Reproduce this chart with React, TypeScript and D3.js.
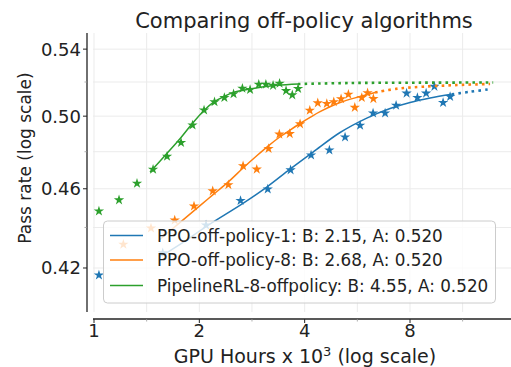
import React from 'react';
import * as d3 from 'd3';

const W = 511;
const H = 367;

const seriesNames = ['PPO-off-policy-1', 'PPO-off-policy-8', 'PipelineRL-8-offpolicy'];
const seriesColors = ['#1f77b4', '#ff7f0e', '#2ca02c'];
const fitB = ['2.15', '2.68', '4.55'];
const fitA = ['0.520', '0.520', '0.520'];

// observed points (GPU hours x 10^3, pass rate)
const ppo1Hours = [1.033, 1.572, 2.09, 2.623, 3.137, 3.646, 4.172, 4.706, 5.218, 5.76, 6.274, 6.791, 7.3, 7.822, 8.399, 8.895, 9.393, 9.946, 10.416];
const ppo1Pass = [0.4166, 0.4273, 0.4412, 0.4538, 0.4598, 0.47, 0.4781, 0.4809, 0.4881, 0.4947, 0.5017, 0.5017, 0.5062, 0.5133, 0.5107, 0.5133, 0.5173, 0.5078, 0.5113];

const ppo8Hours = [1.213, 1.455, 1.701, 1.931, 2.184, 2.421, 2.667, 2.918, 3.154, 3.386, 3.626, 3.881, 4.137, 4.36, 4.627, 4.845, 5.083, 5.333, 5.563, 5.825, 6.051, 6.287];
const ppo8Pass = [0.4315, 0.4397, 0.4437, 0.4509, 0.4588, 0.4621, 0.4722, 0.4704, 0.4817, 0.4897, 0.49, 0.4955, 0.5033, 0.5076, 0.5072, 0.5083, 0.51, 0.5127, 0.505, 0.5107, 0.5135, 0.5101];

const pipeHours = [1.033, 1.179, 1.327, 1.475, 1.617, 1.773, 1.912, 2.063, 2.21, 2.358, 2.505, 2.655, 2.793, 2.957, 3.099, 3.249, 3.391, 3.539, 3.687, 3.83];
const pipePass = [0.4483, 0.4541, 0.4628, 0.4703, 0.4774, 0.485, 0.4949, 0.5035, 0.5083, 0.5107, 0.5129, 0.5162, 0.5155, 0.5186, 0.5186, 0.5179, 0.5192, 0.5148, 0.5123, 0.516];

// fitted curves (solid: fitted range, dotted: extrapolation)
const ppo1FitHours = [1.561, 1.82, 2.1, 2.672, 3.117, 3.633, 4.227, 5.049, 6.02, 7.017, 8.004, 9.131, 10.533];
const ppo1FitPass = [0.4259, 0.4332, 0.4407, 0.4525, 0.4609, 0.4705, 0.4798, 0.4907, 0.4989, 0.5044, 0.5079, 0.5105, 0.5127];
const ppo1ExtHours = [10.533, 11.88, 13.55];
const ppo1ExtPass = [0.5127, 0.5142, 0.5157];

const ppo8FitHours = [1.524, 1.773, 2.009, 2.189, 2.416, 2.667, 2.924, 3.144, 3.38, 3.633, 3.881, 4.145, 4.426, 5.049, 5.76, 6.357];
const ppo8FitPass = [0.4332, 0.443, 0.4512, 0.4569, 0.4635, 0.4711, 0.4779, 0.4831, 0.4879, 0.4921, 0.4958, 0.4993, 0.5026, 0.5079, 0.5114, 0.5138];
const ppo8ExtHours = [6.357, 7.397, 8.72, 10.91, 13.55];
const ppo8ExtPass = [0.5138, 0.5161, 0.5172, 0.5182, 0.5188];

const pipeFitHours = [1.446, 1.617, 1.773, 1.915, 2.063, 2.203, 2.353, 2.497, 2.793, 3.336, 3.83];
const pipeFitPass = [0.4689, 0.4791, 0.4879, 0.4961, 0.5033, 0.5082, 0.5114, 0.5137, 0.5158, 0.518, 0.5188];
const pipeExtHours = [3.83, 5.394, 8.55, 13.83];
const pipeExtPass = [0.5188, 0.5194, 0.5196, 0.5197];

const xTicks = [1, 2, 4, 8];
const xTickLabels = ['1', '2', '4', '8'];
const xMinor = [1.414, 2.828, 5.657, 11.31];
const yTicks = [0.42, 0.46, 0.5, 0.54];
const yTickLabels = ['0.42', '0.46', '0.50', '0.54'];
const yMinor = [0.44, 0.48, 0.52];

const FONT = 'DejaVu Sans, sans-serif';

const zip = (xs: number[], ys: number[]) => xs.map((x, i) => [x, ys[i]] as [number, number]);

export default function App() {
  const x = d3.scaleLog().domain([0.9934, 15.55]).range([93, 511]);
  const y = d3.scaleLog().domain([0.3993, 0.5501]).range([312, 33]);

  const line = d3
    .line<[number, number]>()
    .x((d) => x(d[0]))
    .y((d) => y(d[1]))
    .curve(d3.curveCatmullRom.alpha(0.5));

  const series = [
    { pts: zip(ppo1Hours, ppo1Pass), fit: zip(ppo1FitHours, ppo1FitPass), ext: zip(ppo1ExtHours, ppo1ExtPass) },
    { pts: zip(ppo8Hours, ppo8Pass), fit: zip(ppo8FitHours, ppo8FitPass), ext: zip(ppo8ExtHours, ppo8ExtPass) },
    { pts: zip(pipeHours, pipePass), fit: zip(pipeFitHours, pipeFitPass), ext: zip(pipeExtHours, pipeExtPass) },
  ];

  const star = d3.symbol(d3.symbolStar, 33)() as string;
  const gridX = [...xTicks, ...xMinor];
  const gridY = [...yTicks, ...yMinor];

  const legX = 103.5, legY = 221, legW = 392, legH = 82;
  const rowY = [235.5, 260, 285.5];

  return (
    <svg width={W} height={H} style={{ position: 'absolute', left: 0, top: 0, background: '#fff' }}>
      <rect width={W} height={H} fill="#fff" />
      {/* grid */}
      <g stroke="#ebebeb" strokeWidth={1}>
        {gridX.map((v, i) => (
          <line key={'gx' + i} x1={x(v)} x2={x(v)} y1={33} y2={312} />
        ))}
        {gridY.map((v, i) => (
          <line key={'gy' + i} x1={93} x2={511} y1={y(v)} y2={y(v)} />
        ))}
      </g>
      {/* series */}
      {series.map((s, i) => (
        <g key={'s' + i}>
          <path d={line(s.fit) as string} fill="none" stroke={seriesColors[i]} strokeWidth={1.5} />
          <path
            d={line(s.ext) as string}
            fill="none"
            stroke={seriesColors[i]}
            strokeWidth={2.6}
            strokeDasharray="2.6 4.1"
          />
          {s.pts.map((p, j) => (
            <path key={j} d={star} transform={`translate(${x(p[0])},${y(p[1])})`} fill={seriesColors[i]} />
          ))}
        </g>
      ))}
      {/* legend */}
      <rect x={legX} y={legY} width={legW} height={legH} rx={4} fill="#fff" fillOpacity={0.8} stroke="#cccccc" strokeWidth={1} />
      {seriesNames.map((n, i) => (
        <g key={'l' + i}>
          <line x1={110} x2={143} y1={rowY[i]} y2={rowY[i]} stroke={seriesColors[i]} strokeWidth={1.5} />
          <text x={157} y={rowY[i]} dy="0.36em" fontFamily={FONT} fontSize={16.8} fill="#222">
            {`${n}: B: ${fitB[i]}, A: ${fitA[i]}`}
          </text>
        </g>
      ))}
      {/* spines */}
      <line x1={87} x2={87} y1={33} y2={312} stroke="#222" strokeWidth={1.3} />
      <line x1={93} x2={511} y1={319} y2={319} stroke="#222" strokeWidth={1.3} />
      {/* ticks */}
      {xTicks.map((v, i) => (
        <g key={'xt' + i}>
          <line x1={x(v)} x2={x(v)} y1={319} y2={323} stroke="#222" strokeWidth={1} />
          <text x={x(v)} y={337} textAnchor="middle" fontFamily={FONT} fontSize={18} fill="#222">
            {xTickLabels[i]}
          </text>
        </g>
      ))}
      {xMinor.map((v, i) => (
        <line key={'xm' + i} x1={x(v)} x2={x(v)} y1={319} y2={321.5} stroke="#999" strokeWidth={0.8} />
      ))}
      {yTicks.map((v, i) => (
        <g key={'yt' + i}>
          <line x1={83} x2={87} y1={y(v)} y2={y(v)} stroke="#222" strokeWidth={1} />
          <text x={81} y={y(v)} dy="0.36em" textAnchor="end" fontFamily={FONT} fontSize={18} fill="#222">
            {yTickLabels[i]}
          </text>
        </g>
      ))}
      {yMinor.map((v, i) => (
        <line key={'ym' + i} x1={84.5} x2={87} y1={y(v)} y2={y(v)} stroke="#999" strokeWidth={0.8} />
      ))}
      {/* labels */}
      <text x={304} y={28} textAnchor="middle" fontFamily={FONT} fontSize={21} fill="#222">
        Comparing off-policy algorithms
      </text>
      <text x={305} y={363} textAnchor="middle" fontFamily={FONT} fontSize={19} fill="#222">
        GPU Hours x 10<tspan dy={-7.5} fontSize={13}>3</tspan>
        <tspan dy={7.5}> (log scale)</tspan>
      </text>
      <text
        transform="translate(31,158) rotate(-90)"
        textAnchor="middle"
        fontFamily={FONT}
        fontSize={17}
        fill="#222"
      >
        Pass rate (log scale)
      </text>
    </svg>
  );
}
